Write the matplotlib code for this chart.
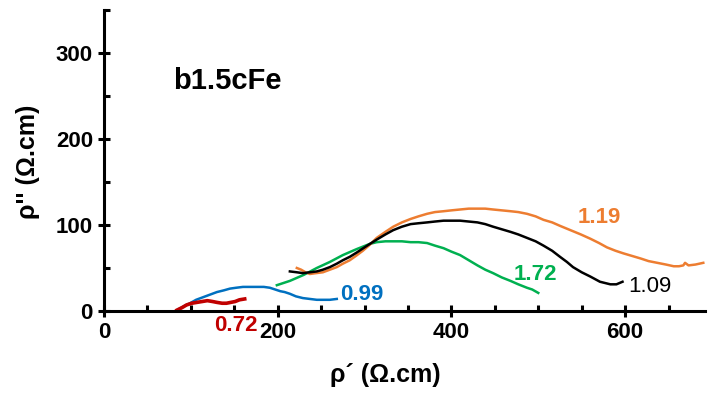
import matplotlib
matplotlib.use('Agg')
import matplotlib.pyplot as plt
from matplotlib.ticker import MultipleLocator

plt.rcParams['font.family'] = ['Liberation Sans', 'DejaVu Sans']

# Curves (rho' vs rho'')
red_x = [84, 90, 95, 101, 107, 113, 119, 125, 130, 136, 141, 146, 151, 156, 162]
red_y = [1, 4, 7, 9, 10, 11, 12, 11, 10, 9, 9, 10, 11, 13, 14]

blue_x = [84, 91, 99, 106, 114, 122, 130, 138, 145, 152, 160, 168, 176, 184, 191,
          197, 203, 208, 214, 221, 229, 237, 245, 252, 260, 268]
blue_y = [1, 5, 9, 13, 16, 19, 22, 24, 26, 27, 28, 28, 28, 28, 27,
          25, 23, 22, 20, 17, 15, 14, 13, 13, 13, 14]

green_x = [199, 214, 230, 245, 260, 275, 291, 306, 314, 324, 333, 343, 353, 362, 372,
           381, 391, 400, 410, 420, 430, 439, 448, 458, 468, 477, 487, 493, 500]
green_y = [30, 35, 42, 50, 57, 65, 72, 78, 80, 81, 81, 81, 80, 80, 79,
           76, 73, 69, 65, 59, 53, 48, 44, 39, 35, 31, 27, 25, 21]

black_x = [214, 222, 229, 237, 245, 252, 260, 268, 275, 283, 291, 303, 314, 324, 333,
           343, 353, 362, 372, 381, 391, 400, 410, 420, 430, 439, 448, 458, 468,
           477, 487, 497, 506, 516, 525, 533, 540, 550, 560, 571, 583, 590, 597]
black_y = [46, 45, 44, 45, 46, 48, 51, 55, 59, 63, 68, 76, 83, 89, 94,
           98, 101, 102, 103, 104, 105, 105, 105, 104, 103, 101, 98, 95, 92,
           89, 85, 81, 76, 70, 63, 57, 51, 45, 40, 34, 31, 31, 34]

orange_x = [222, 227, 232, 237, 244, 252, 260, 268, 275, 283, 290, 298, 306, 314, 324,
            333, 343, 353, 362, 372, 381, 391, 400, 410, 420, 430, 439, 448, 458,
            468, 477, 487, 497, 506, 516, 525, 537, 549, 560, 570, 579, 589, 598,
            608, 618, 627, 637, 647, 656, 662, 667, 669, 673, 681, 690]
orange_y = [50, 48, 45, 43, 44, 45, 48, 51, 55, 59, 64, 70, 77, 85, 92,
            98, 103, 107, 110, 113, 115, 116, 117, 118, 119, 119, 119, 118, 117,
            116, 115, 113, 110, 106, 103, 99, 94, 89, 84, 79, 74, 70, 67,
            64, 61, 58, 56, 54, 52, 52, 53, 56, 53, 54, 56]

labels = ['0.72', '0.99', '1.72', '1.09', '1.19']
label_x = [152, 297, 497, 629, 570]
label_y = [-17, 18.6, 43, 28, 109]

fig = plt.figure(figsize=(7.08, 3.94), dpi=100)
ax = fig.add_axes([0.1469, 0.2107, 0.8489, 0.764])

ax.plot(blue_x, blue_y, color='#0070C0', lw=1.8)
ax.plot(red_x, red_y, color='#C00000', lw=2.6)
ax.plot(green_x, green_y, color='#00B050', lw=1.8)
ax.plot(orange_x, orange_y, color='#ED7D31', lw=1.8)
ax.plot(black_x, black_y, color='black', lw=1.8)

colors = ['#C00000', '#0070C0', '#00B050', 'black', '#ED7D31']
weights = ['bold', 'bold', 'bold', 'normal', 'bold']
for t, x, y, c, w in zip(labels, label_x, label_y, colors, weights):
    ax.text(x, y, t, color=c, fontsize=16, fontweight=w, ha='center', va='center', clip_on=False)

ax.text(142, 267, 'b1.5cFe', fontsize=21, fontweight='bold', ha='center', va='center')

ax.set_xlim(0, 692)
ax.set_ylim(0, 350)
ax.xaxis.set_major_locator(MultipleLocator(200))
ax.xaxis.set_minor_locator(MultipleLocator(50))
ax.yaxis.set_major_locator(MultipleLocator(100))
ax.yaxis.set_minor_locator(MultipleLocator(50))

for s in ['top', 'right']:
    ax.spines[s].set_visible(False)
for s in ['left', 'bottom']:
    ax.spines[s].set_linewidth(2.2)

ax.tick_params(which='major', direction='inout', length=8, width=2.2, labelsize=16, pad=4)
ax.tick_params(which='minor', direction='in', length=4, width=2.2)
for lab in ax.get_xticklabels() + ax.get_yticklabels():
    lab.set_fontweight('bold')

ax.set_xlabel('ρ´ (Ω.cm)', fontsize=18, fontweight='bold', va='center')
ax.xaxis.set_label_coords(0.4676, -0.213)
ax.set_ylabel("ρ'' (Ω.cm)", fontsize=18, fontweight='bold', va='center')
ax.yaxis.set_label_coords(-0.126, 0.495)

fig.savefig('out.png', dpi=100)
